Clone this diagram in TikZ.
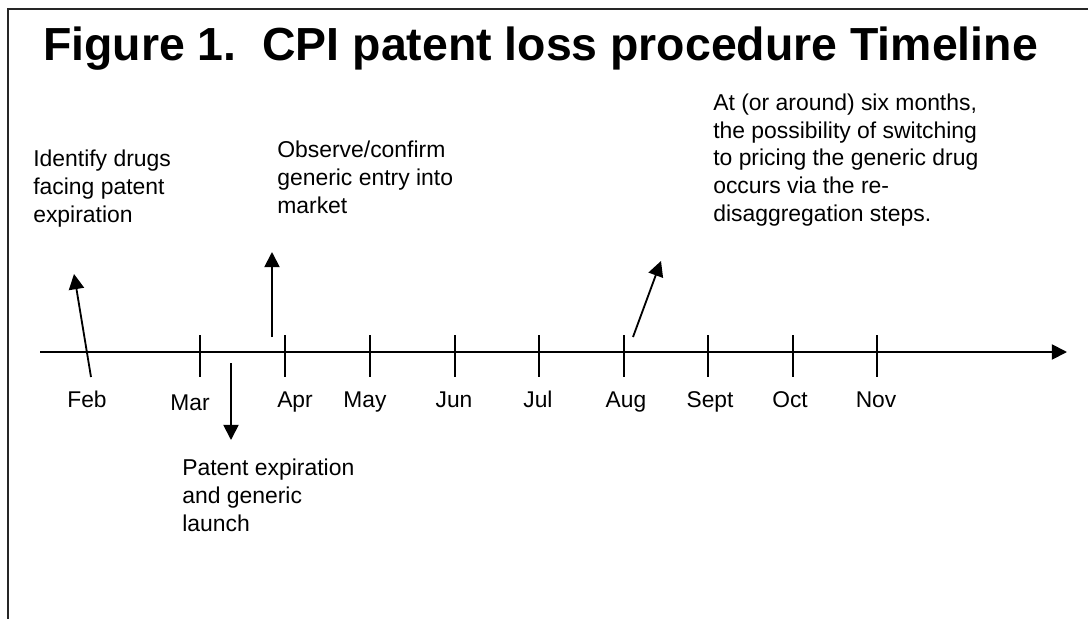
\documentclass[tikz,border=0pt]{standalone}
\usepackage{fontspec}
\setmainfont{Liberation Sans}
\usetikzlibrary{positioning,arrows.meta}

\begin{document}
\begin{tikzpicture}[
    x=0.025cm, y=-0.025cm,
    frame/.style={line width=1.4pt, black!85},
    axis/.style={line width=1.3pt, -{Triangle[length=0.38cm, width=0.38cm]}},
    tick/.style={line width=1.3pt},
    arrow/.style={-{Triangle[length=0.38cm, width=0.38cm]}, line width=1.3pt},
    month/.style={font=\fontsize{16.2pt}{19.5pt}\selectfont, anchor=base, inner sep=0pt},
    note/.style={font=\fontsize{16.3pt}{19.6pt}\selectfont, align=left, anchor=base west, inner sep=0pt},
    title/.style={font=\fontsize{33pt}{38pt}\selectfont\bfseries, anchor=base west, inner sep=0pt},
]
\useasboundingbox (0,0) rectangle (1088,619);

% ====== Frame and title ======
\draw[frame] (8,619) -- (8,9) -- (1088,9);
\node[title] (fTitle) at (43,60) {Figure 1.\ \ CPI patent loss procedure Timeline};

% ====== Time axis ======
\coordinate (axStart) at (40,352);
\coordinate (axEnd) at (1067,352);
\draw[axis] (axStart) -- (axEnd);

\draw[tick] (200,335) -- (200,377);
\draw[tick] (285,335) -- (285,377);
\draw[tick] (370,335) -- (370,377);
\draw[tick] (455,335) -- (455,377);
\draw[tick] (539,335) -- (539,377);
\draw[tick] (624,335) -- (624,377);
\draw[tick] (708,335) -- (708,377);
\draw[tick] (793,335) -- (793,377);
\draw[tick] (877,335) -- (877,377);

% ====== Months ======
\node[month] (mFeb) at (87,407) {Feb};
\node[month] (mMar) at (190,410) {Mar};
\node[month] (mApr) at (295,407) {Apr};
\node[month] (mMay) at (365,407) {May};
\node[month] (mJun) at (454,407) {Jun};
\node[month] (mJul) at (538,407) {Jul};
\node[month] (mAug) at (626,407) {Aug};
\node[month] (mSep) at (710,407) {Sept};
\node[month] (mOct) at (790,407) {Oct};
\node[month] (mNov) at (876,407) {Nov};

% ====== Steps (anchored on the last line) ======
\node[note] (nIdentify) at (33,222) {Identify drugs\\facing patent\\expiration};
\node[note] (nObserve) at (277,213) {Observe/confirm\\generic entry into\\market};
\node[note] (nPatent) at (182,531) {Patent expiration\\and generic\\launch};
\node[note] (nSwitch) at (713,221) {At (or around) six months,\\the possibility of switching\\to pricing the generic drug\\occurs via the re-\\disaggregation steps.};

% ====== Pointers ======
\coordinate (pIdentify) at (91,377);
\coordinate (tIdentify) at (74,274);
\coordinate (pObserve) at (272,337);
\coordinate (tObserve) at (272,252);
\coordinate (pPatent) at (231,363);
\coordinate (tPatent) at (231,440);
\coordinate (pSwitch) at (633,337);
\coordinate (tSwitch) at (661,261);

\draw[arrow] (pIdentify) -- (tIdentify);
\draw[arrow] (pObserve) -- (tObserve);
\draw[arrow] (pPatent) -- (tPatent);
\draw[arrow] (pSwitch) -- (tSwitch);

\end{tikzpicture}
\end{document}
